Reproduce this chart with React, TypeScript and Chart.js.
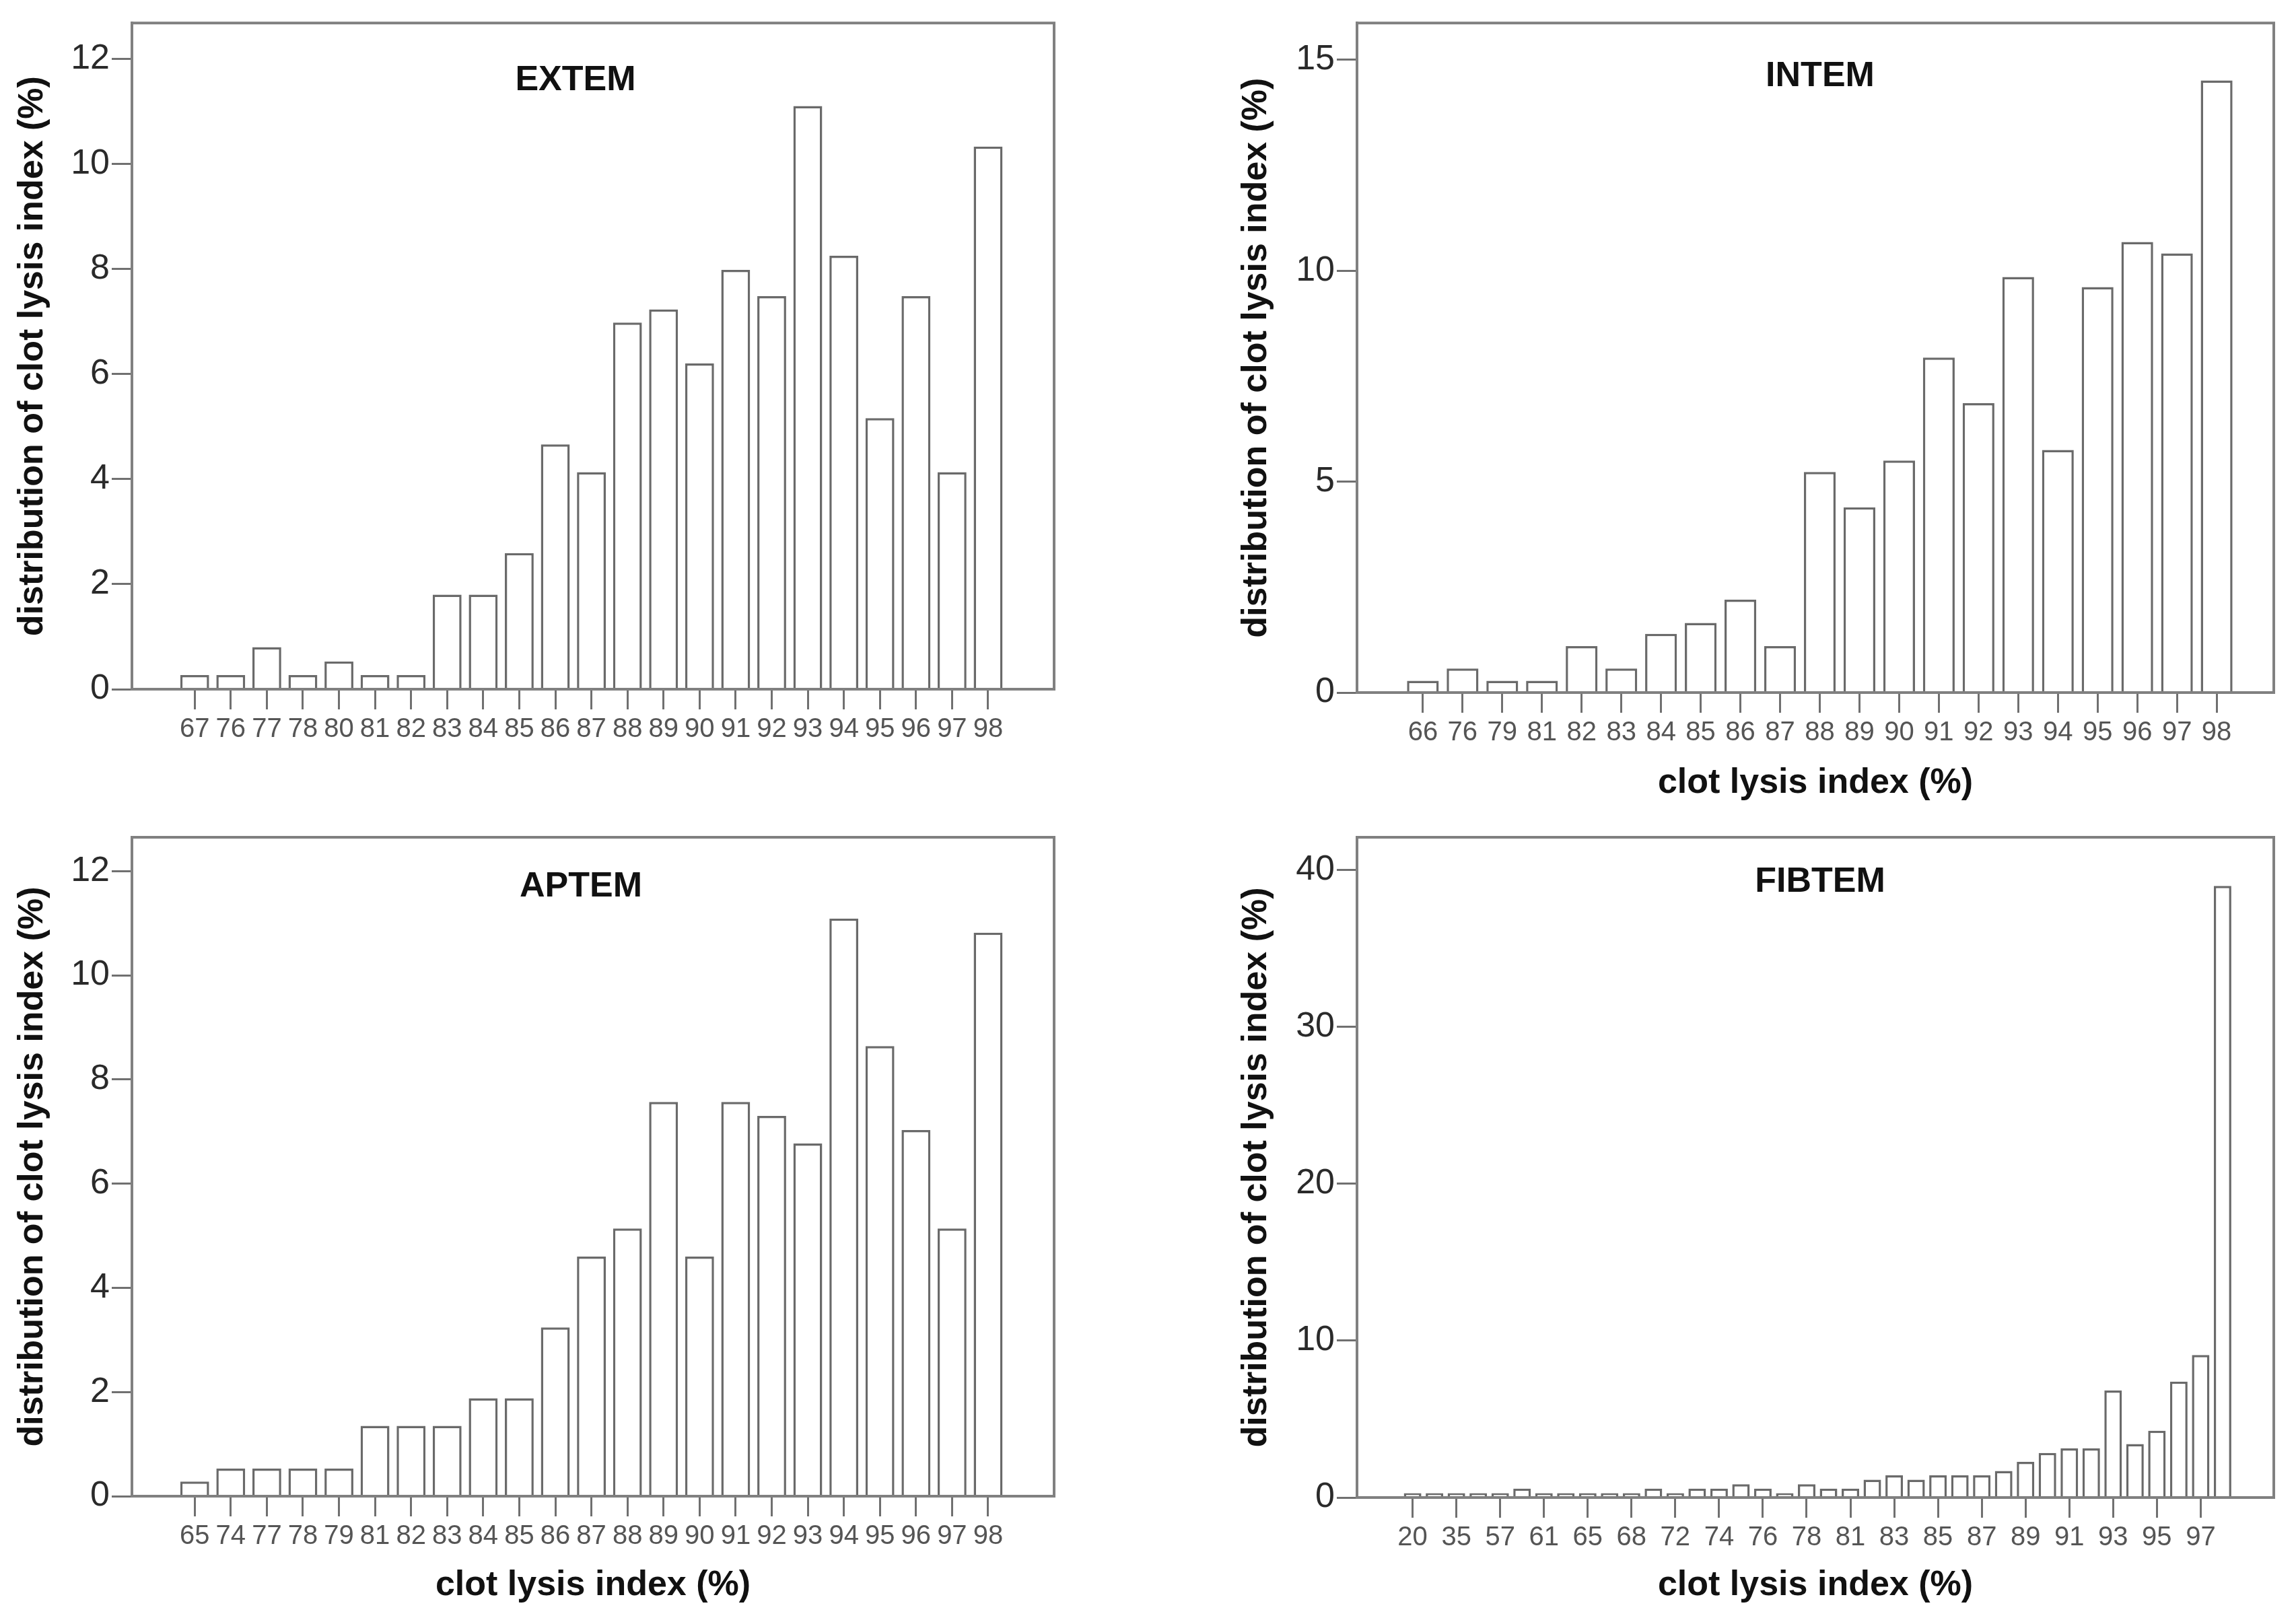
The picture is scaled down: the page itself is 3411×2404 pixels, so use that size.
import React, { useEffect, useRef } from 'react';
import { Chart, registerables } from 'chart.js';

Chart.register(...registerables);

// ---------- data ----------
const extemCategories = ['67', '76', '77', '78', '80', '81', '82', '83', '84', '85', '86', '87', '88', '89', '90', '91', '92', '93', '94', '95', '96', '97', '98'];
const extemValues = [0.27, 0.27, 0.8, 0.27, 0.53, 0.27, 0.27, 1.8, 1.8, 2.59, 4.66, 4.13, 6.98, 7.23, 6.2, 7.98, 7.48, 11.1, 8.25, 5.16, 7.48, 4.13, 10.33];

const intemCategories = ['66', '76', '79', '81', '82', '83', '84', '85', '86', '87', '88', '89', '90', '91', '92', '93', '94', '95', '96', '97', '98'];
const intemValues = [0.28, 0.57, 0.28, 0.28, 1.1, 0.57, 1.39, 1.65, 2.2, 1.1, 5.23, 4.39, 5.5, 7.94, 6.86, 9.85, 5.75, 9.61, 10.68, 10.41, 14.51];

const aptemCategories = ['65', '74', '77', '78', '79', '81', '82', '83', '84', '85', '86', '87', '88', '89', '90', '91', '92', '93', '94', '95', '96', '97', '98'];
const aptemValues = [0.28, 0.53, 0.53, 0.53, 0.53, 1.35, 1.35, 1.35, 1.88, 1.88, 3.24, 4.6, 5.14, 7.57, 4.6, 7.57, 7.3, 6.77, 11.09, 8.64, 7.03, 5.14, 10.82];

const fibtemCategories = ['20', '33', '35', '50', '57', '60', '61', '64', '65', '67', '68', '70', '72', '73', '74', '75', '76', '77', '78', '80', '81', '82', '83', '84', '85', '86', '87', '88', '89', '90', '91', '92', '93', '94', '95', '96', '97', '98'];
const fibtemValues = [0.28, 0.28, 0.28, 0.28, 0.28, 0.57, 0.28, 0.28, 0.28, 0.28, 0.28, 0.57, 0.28, 0.57, 0.57, 0.85, 0.57, 0.28, 0.85, 0.57, 0.57, 1.14, 1.42, 1.14, 1.42, 1.42, 1.42, 1.7, 2.27, 2.84, 3.13, 3.13, 6.82, 3.41, 4.26, 7.39, 9.09, 39.0];

const yTitle = 'distribution of clot lysis index (%)';
const xTitle = 'clot lysis index (%)';

// ---------- layout ----------
const FONT = "'Liberation Sans', Arial, Helvetica, sans-serif";

type Rect = { left: number; top: number; width: number; height: number };
type Plot = { left: number; top: number; right: number; bottom: number };
type Panel = {
  title: string;
  categories: string[];
  values: number[];
  yMax: number;
  yStep: number;
  padL: number;
  padR: number;
  tickEvery: number;
  showXTitle: boolean;
  xTitlePad: number;
  canvas: Rect;
  plot: Plot;
  titleDx: number;
  titleDy: number;
};

const panels: Panel[] = [
  {
    title: 'EXTEM', categories: extemCategories, values: extemValues, yMax: 12.68, yStep: 2,
    padL: 1.74, padR: 1.83, tickEvery: 1, showXTitle: false, xTitlePad: 5,
    canvas: { left: 0, top: 0, width: 1705, height: 1200 },
    plot: { left: 196, top: 30, right: 1566, bottom: 1024 },
    titleDx: -26, titleDy: 85,
  },
  {
    title: 'INTEM', categories: intemCategories, values: intemValues, yMax: 15.87, yStep: 5,
    padL: 1.66, padR: 1.44, tickEvery: 1, showXTitle: true, xTitlePad: 5,
    canvas: { left: 1818, top: 0, width: 1593, height: 1200 },
    plot: { left: 2016, top: 30, right: 3378, bottom: 1029 },
    titleDx: 7, titleDy: 79,
  },
  {
    title: 'APTEM', categories: aptemCategories, values: aptemValues, yMax: 12.65, yStep: 2,
    padL: 1.74, padR: 1.83, tickEvery: 1, showXTitle: true, xTitlePad: 17,
    canvas: { left: 0, top: 1200, width: 1705, height: 1204 },
    plot: { left: 196, top: 1244, right: 1566, bottom: 2223 },
    titleDx: -18, titleDy: 74,
  },
  {
    title: 'FIBTEM', categories: fibtemCategories, values: fibtemValues, yMax: 42.1, yStep: 10,
    padL: 2.54, padR: 2.34, tickEvery: 2, showXTitle: true, xTitlePad: 17,
    canvas: { left: 1818, top: 1200, width: 1593, height: 1204 },
    plot: { left: 2016, top: 1244, right: 3378, bottom: 2225 },
    titleDx: 7, titleDy: 67,
  },
];

const AXIS_COLOR = '#808080';
const BAR_BORDER = '#6a6a6a';

const framePlugin = {
  id: 'frameBox',
  afterDatasetsDraw(chart: any) {
    const { ctx, chartArea } = chart;
    ctx.save();
    ctx.strokeStyle = AXIS_COLOR;
    ctx.lineWidth = 4;
    ctx.strokeRect(chartArea.left, chartArea.top, chartArea.right - chartArea.left, chartArea.bottom - chartArea.top);
    ctx.restore();
  },
};

const panelTitlePlugin = {
  id: 'panelTitle',
  afterDraw(chart: any, _args: any, opts: any) {
    const { ctx, chartArea } = chart;
    ctx.save();
    ctx.font = `bold 52px ${FONT}`;
    ctx.fillStyle = '#111111';
    ctx.textAlign = 'center';
    ctx.textBaseline = 'middle';
    ctx.fillText(opts.text, (chartArea.left + chartArea.right) / 2 + opts.dx, chartArea.top + opts.dy);
    ctx.restore();
  },
};

function makeChart(canvas: HTMLCanvasElement, p: Panel) {
  const n = p.categories.length;
  const points = p.values.map((v, i) => ({ x: i, y: v }));
  return new Chart(canvas, {
    type: 'bar',
    data: {
      datasets: [
        {
          data: points as any,
          backgroundColor: '#ffffff',
          borderColor: BAR_BORDER,
          borderWidth: 3.5,
          barPercentage: 1,
          categoryPercentage: 0.8,
        },
      ],
    },
    options: {
      animation: false,
      responsive: false,
      devicePixelRatio: 1,
      layout: {
        padding: {
          left: 0,
          top: p.plot.top - p.canvas.top,
          right: p.canvas.left + p.canvas.width - p.plot.right,
          bottom: 0,
        },
      },
      plugins: {
        legend: { display: false },
        tooltip: { enabled: false },
        panelTitle: { text: p.title, dx: p.titleDx, dy: p.titleDy },
      } as any,
      scales: {
        x: {
          type: 'linear',
          min: -p.padL,
          max: n - 1 + p.padR,
          offset: false,
          afterBuildTicks: (s: any) => {
            s.ticks = p.categories
              .map((_, i) => i)
              .filter((i) => i % p.tickEvery === 0)
              .map((v) => ({ value: v }));
          },
          afterFit: (s: any) => {
            s.height = p.canvas.top + p.canvas.height - p.plot.bottom;
          },
          ticks: {
            autoSkip: false,
            maxRotation: 0,
            minRotation: 0,
            padding: 6,
            color: '#555555',
            font: { family: FONT, size: 40 },
            callback: (v: any) => p.categories[v] ?? '',
          },
          grid: {
            offset: false,
            drawOnChartArea: false,
            drawTicks: true,
            tickLength: 30,
            tickColor: '#707070',
            tickWidth: 3,
          },
          border: { display: true, color: AXIS_COLOR, width: 4 },
          title: {
            display: p.showXTitle,
            text: xTitle,
            color: '#111111',
            font: { family: FONT, size: 52, weight: 'bold' },
            padding: { top: 0, bottom: p.xTitlePad },
          },
        },
        y: {
          min: 0,
          max: p.yMax,
          afterBuildTicks: (s: any) => {
            const t: { value: number }[] = [];
            for (let v = 0; v <= p.yMax + 1e-9; v += p.yStep) t.push({ value: v });
            s.ticks = t;
          },
          afterFit: (s: any) => {
            s.width = p.plot.left - p.canvas.left;
          },
          ticks: {
            padding: 3,
            color: '#2a2a2a',
            font: { family: FONT, size: 52 },
          },
          grid: {
            drawOnChartArea: false,
            drawTicks: true,
            tickLength: 30,
            tickColor: '#707070',
            tickWidth: 3,
          },
          border: { display: true, color: AXIS_COLOR, width: 4 },
          title: {
            display: true,
            text: yTitle,
            color: '#111111',
            font: { family: FONT, size: 52, weight: 'bold' },
            padding: { top: 17, bottom: 0 },
          },
        },
      },
    } as any,
    plugins: [framePlugin, panelTitlePlugin],
  });
}

export default function App() {
  const refs = useRef<(HTMLCanvasElement | null)[]>([]);

  useEffect(() => {
    document.body.style.margin = '0';
    document.body.style.overflow = 'hidden';
    const charts = panels.map((p, i) => makeChart(refs.current[i] as HTMLCanvasElement, p));
    return () => charts.forEach((c) => c.destroy());
  }, []);

  return (
    <div style={{ position: 'absolute', left: 0, top: 0, width: 3411, height: 2404, background: '#ffffff', overflow: 'hidden' }}>
      {panels.map((p, i) => (
        <canvas
          key={p.title}
          ref={(el) => { refs.current[i] = el; }}
          width={p.canvas.width}
          height={p.canvas.height}
          style={{ position: 'absolute', left: p.canvas.left, top: p.canvas.top, width: p.canvas.width, height: p.canvas.height }}
        />
      ))}
    </div>
  );
}
